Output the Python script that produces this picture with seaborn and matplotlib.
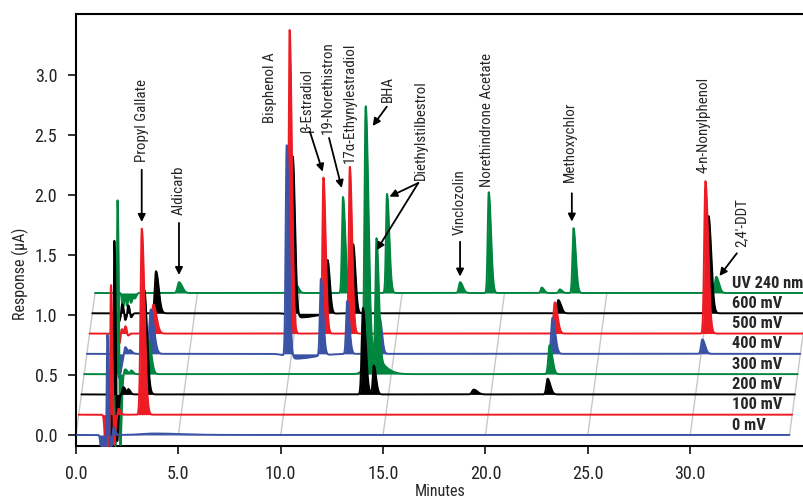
import numpy as np
import pandas as pd
import matplotlib
matplotlib.use("Agg")
import matplotlib.pyplot as plt
import seaborn as sns
from matplotlib import font_manager
from matplotlib.ticker import FormatStrFormatter, MultipleLocator

# ------------------------------------------------------------------
# DATA : one chromatogram per detector setting, front (0 mV) to back (UV)
# peaks = (retention time [min], height [µA], width [min])
# ------------------------------------------------------------------
trace_names = ["0 mV", "100 mV", "200 mV", "300 mV",
               "400 mV", "500 mV", "600 mV", "UV 240 nm"]

peaks_0mv = [(1.30, -0.45, 0.06), (1.53, 0.93, 0.03), (1.66, -0.30, 0.03),
             (1.82, 0.07, 0.04), (3.80, 0.012, 0.60)]
peaks_100mv = [(1.35, -0.50, 0.06), (1.57, 1.20, 0.03), (1.72, -0.30, 0.03),
               (1.95, 0.05, 0.04), (3.08, 1.55, 0.06)]
peaks_200mv = [(1.48, -0.60, 0.04), (1.60, 1.50, 0.03), (1.72, -0.55, 0.03),
               (2.05, 0.06, 0.05), (2.30, 0.04, 0.04), (3.07, 0.87, 0.06),
               (13.75, 0.72, 0.06), (14.28, 0.24, 0.05), (19.16, 0.04, 0.08),
               (22.77, 0.13, 0.06)]
peaks_300mv = [(1.50, -0.75, 0.04), (1.62, 1.72, 0.03), (1.75, -0.75, 0.03),
               (2.00, 0.04, 0.05), (2.30, 0.03, 0.04), (3.15, 0.28, 0.06),
               (13.75, 2.14, 0.06), (14.00, 0.15, 0.25), (14.28, 1.00, 0.05),
               (22.73, 0.24, 0.06)]
peaks_400mv = [(1.57, -0.20, 0.05), (1.87, 0.06, 0.04), (2.10, 0.03, 0.05),
               (3.12, 0.37, 0.07), (9.76, 1.76, 0.05), (10.20, -0.04, 0.40),
               (11.43, 0.64, 0.05), (12.71, 0.44, 0.05), (14.30, 0.30, 0.05),
               (22.74, 0.30, 0.06), (30.06, 0.12, 0.06)]
peaks_500mv = [(1.45, -0.08, 0.04), (1.55, 0.07, 0.03), (1.75, 0.06, 0.04),
               (1.85, -0.04, 0.03), (3.11, 0.24, 0.07), (9.77, 2.53, 0.05),
               (11.42, 1.30, 0.05), (12.71, 1.39, 0.05), (22.72, 0.26, 0.06),
               (30.08, 1.27, 0.06)]
peaks_600mv = [(1.30, -0.07, 0.03), (1.45, 0.08, 0.03), (1.60, -0.06, 0.03),
               (1.75, 0.07, 0.03), (1.88, -0.04, 0.03), (3.11, 0.35, 0.06),
               (9.79, 1.33, 0.05), (10.10, -0.035, 0.35), (11.49, 0.45, 0.05),
               (12.74, 0.575, 0.05), (22.76, 0.11, 0.06), (30.10, 0.81, 0.06)]
peaks_uv = [(1.35, -0.12, 0.04), (1.45, 0.04, 0.02), (1.55, -0.10, 0.03),
            (1.75, -0.08, 0.04), (1.95, -0.04, 0.03), (4.10, 0.09, 0.07),
            (9.85, 0.06, 0.05), (12.11, 0.80, 0.05), (14.26, 0.825, 0.05),
            (17.83, 0.09, 0.06), (19.23, 0.84, 0.05), (21.82, 0.045, 0.05),
            (22.70, 0.03, 0.05), (23.37, 0.54, 0.05), (30.34, 0.135, 0.06)]

all_peaks = [peaks_0mv, peaks_100mv, peaks_200mv, peaks_300mv,
             peaks_400mv, peaks_500mv, peaks_600mv, peaks_uv]
run_end = 34.85

# compound labels : (text, x, y bottom)
compounds = [("Propyl Gallate", 3.22, 2.275), ("Aldicarb", 5.03, 1.833),
             ("Bisphenol A", 9.48, 2.60), ("β-Estradiol", 11.28, 2.525),
             ("19-Norethistron", 12.31, 2.51),
             ("17α-Ethynylestradiol", 13.39, 2.267), ("BHA", 15.24, 2.775),
             ("Diethylstilbestrol", 16.85, 2.125), ("Vinclozolin", 18.76, 1.667),
             ("Norethindrone Acetate", 20.08, 2.067),
             ("Methoxychlor", 24.13, 2.11), ("4-n-Nonylphenol", 30.63, 2.18),
             ("2,4'-DDT", 32.49, 1.57)]
# arrows : (tail x, tail y, head x, head y)
arrows = [(3.21, 2.21, 3.21, 1.775), (5.03, 1.767, 5.03, 1.333),
          (11.43, 2.525, 12.05, 2.194), (12.36, 2.475, 12.98, 2.058),
          (15.18, 2.736, 14.49, 2.575), (16.72, 2.10, 15.31, 1.986),
          (16.72, 2.10, 14.69, 1.54), (18.76, 1.61, 18.76, 1.32),
          (24.22, 2.014, 24.22, 1.778), (32.28, 1.514, 31.43, 1.325)]

# ------------------------------------------------------------------
# STYLE
# ------------------------------------------------------------------
BLUE, RED, BLACK, GREEN = "#3a53a4", "#ed1c24", "#000000", "#00853f"
trace_colors = [BLUE, RED, BLACK, GREEN, BLUE, RED, BLACK, GREEN]
DX, DY = 0.133, 0.169   # pseudo-3D shift per trace
TAIL = 2.2

sns.set_theme(style="ticks")
names = {f.name for f in font_manager.fontManager.ttflist}
narrow = next((n for n in ["Liberation Sans Narrow", "Roboto Condensed",
                           "DejaVu Sans Condensed", "Open Sans Condensed"]
               if n in names), "Liberation Sans")
plt.rcParams["font.family"] = [narrow, "DejaVu Sans"]


def peak_trace(t, peaks):
    y = np.zeros_like(t)
    for rt, h, w in peaks:
        sig = np.where(t < rt, w, w * TAIL)
        y += h * np.exp(-0.5 * ((t - rt) / sig) ** 2)
    return y


t = np.arange(0, run_end, 0.004)
rows = []
for k, (name, peaks) in enumerate(zip(trace_names, all_peaks)):
    rows.append(pd.DataFrame({"trace": name,
                              "minutes": t + k * DX,
                              "base": k * DY,
                              "response": peak_trace(t, peaks) + k * DY}))
df = pd.concat(rows, ignore_index=True)

fig = plt.figure(figsize=(8.04, 4.99), dpi=100)
ax = fig.add_axes([76 / 804, 53 / 499, 728 / 804, 432 / 499])

# slanted grey grid
for x0 in [0, 5, 10, 15, 20, 25, 30, run_end]:
    ax.plot([x0, x0 + 7 * DX], [0, 7 * DY], color="#c8c8c8", lw=1.0, zorder=1)

for k in range(7, -1, -1):
    sub = df[df["trace"] == trace_names[k]]
    z = 10 + 2 * (7 - k)
    ax.fill_between(sub["minutes"], sub["base"], sub["response"],
                    color=trace_colors[k], lw=0, zorder=z)
    sns.lineplot(data=sub, x="minutes", y="response", color=trace_colors[k],
                 lw=1.4, estimator=None, sort=False, ax=ax, zorder=z + 0.5)
    ax.text(32.05, k * DY + 0.02, trace_names[k], fontsize=11.8,
            fontweight="bold", ha="left", va="bottom", zorder=40)

for txt, x, y in compounds:
    ax.text(x, y, txt, rotation=90, ha="center", va="bottom", fontsize=10.8,
            zorder=40)
for x1, y1, x2, y2 in arrows:
    ax.annotate("", xy=(x2, y2), xytext=(x1, y1), zorder=40,
                arrowprops=dict(arrowstyle="-|>", color="black", lw=1.3,
                                mutation_scale=11, shrinkA=0, shrinkB=0))

ax.set_xlim(0, 35.56)
ax.set_ylim(-0.092, 3.508)
ax.xaxis.set_major_formatter(FormatStrFormatter("%.1f"))
ax.yaxis.set_major_formatter(FormatStrFormatter("%.1f"))
ax.set_xticks(np.arange(0, 31, 5))
ax.set_yticks(np.arange(0, 3.01, 0.5))
ax.tick_params(direction="out", length=5.5, width=1.3, pad=8,
               labelsize=13, colors="#222222")
for side in ["left", "bottom", "top"]:
    ax.spines[side].set_linewidth(1.5)
    ax.spines[side].set_color("black")
ax.spines["right"].set_visible(False)

ax.set_xlabel("Minutes", fontsize=11.5)
ax.set_ylabel("Response (µA)", fontsize=11.5, va="center")
ax.xaxis.set_label_coords(0.5, -0.088)
ax.yaxis.set_label_coords(-0.077, 0.398)

fig.savefig("out.png", dpi=100)
